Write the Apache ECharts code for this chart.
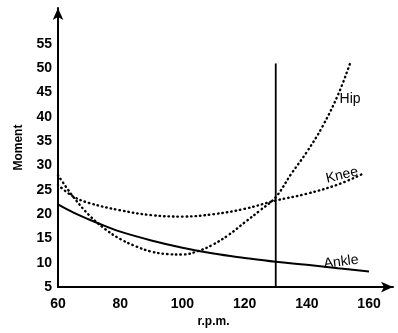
<!DOCTYPE html>
<html>
<head>
<meta charset="utf-8">
<script src="https://cdn.jsdelivr.net/npm/echarts@6/dist/echarts.min.js"></script>
<style>html,body{margin:0;padding:0;background:#fff;}#c{width:398px;height:333px;}</style>
</head>
<body>
<div id="c"></div>
<script>
const xTicks = [60, 80, 100, 120, 140, 160];
const yTicks = [5, 10, 15, 20, 25, 30, 35, 40, 45, 50, 55];
const hipX   = [60, 65, 70, 75, 80, 85, 90, 95, 100, 105, 110, 115, 120, 125, 130, 135, 140, 145, 150, 154];
const hipY   = [28, 23.5, 19.8, 17, 14.9, 13.4, 12.3, 11.8, 11.7, 12.4, 13.8, 15.8, 18.3, 20.8, 23.5, 28.3, 32.8, 38, 44.5, 51.2];
const kneeX  = [60, 65, 70, 80, 90, 100, 110, 120, 130, 140, 150, 158];
const kneeY  = [26, 23.6, 22.3, 20.8, 19.8, 19.5, 20, 21.1, 22.8, 24.2, 26.1, 28.3];
const ankleX = [60, 65, 70, 75, 80, 90, 100, 110, 120, 130, 140, 150, 160];
const ankleY = [22, 20.3, 18.9, 17.6, 16.4, 14.6, 13.1, 11.9, 11, 10.2, 9.6, 8.9, 8.2];
const markerX = 130;
const markerY = [5, 51];
const labels = [
  {name: 'Hip', coord: [153.9, 43.6], rotate: 0},
  {name: 'Knee', coord: [151.3, 28.0], rotate: 13},
  {name: 'Ankle', coord: [151, 10.2], rotate: 7}
];

const zip = (xs, ys) => xs.map((x, i) => [x, ys[i]]);
const chart = echarts.init(document.getElementById('c'), null, {renderer: 'canvas'});
const txt = {fontFamily: 'Liberation Sans, Arial, sans-serif', color: '#000'};
const dotted = {color: '#000', width: 2.4, type: [0.5, 4], cap: 'round'};

chart.setOption({
  animation: false,
  backgroundColor: '#fff',
  grid: {left: 58, right: 5, top: 8, bottom: 38, containLabel: false},
  xAxis: {
    type: 'value', min: 60, max: 167.7, interval: 20,
    name: 'r.p.m.', nameLocation: 'middle', nameGap: 24,
    nameTextStyle: Object.assign({fontSize: 12, fontWeight: 'bold', padding: [0, 24, 0, 0]}, txt),
    axisLine: {show: true, lineStyle: {color: '#000', width: 2}, symbol: ['none', 'arrow'], symbolSize: [8, 12]},
    axisTick: {show: false},
    splitLine: {show: false},
    axisLabel: Object.assign({fontSize: 14, fontWeight: 'bold', margin: 10,
      formatter: v => xTicks.includes(v) ? String(v) : ''}, txt)
  },
  yAxis: {
    type: 'value', min: 5, max: 62.4, interval: 5,
    name: 'Moment', nameLocation: 'middle', nameGap: 33, nameRotate: 90,
    nameTextStyle: Object.assign({fontSize: 12, fontWeight: 'bold'}, txt),
    axisLine: {show: true, lineStyle: {color: '#000', width: 2}, symbol: ['none', 'arrow'], symbolSize: [8, 12]},
    axisTick: {show: false},
    splitLine: {show: false},
    axisLabel: Object.assign({fontSize: 14, fontWeight: 'bold', margin: 6,
      formatter: v => yTicks.includes(v) ? String(v) : ''}, txt)
  },
  series: [
    {name: 'Hip', type: 'line', data: zip(hipX, hipY), smooth: 0.4, showSymbol: false, lineStyle: dotted,
     markPoint: {symbol: 'circle', symbolSize: 0, silent: true,
       data: [{coord: labels[0].coord, label: {show: true, position: 'inside', formatter: labels[0].name, rotate: labels[0].rotate, fontSize: 14, color: '#000', fontFamily: txt.fontFamily}}]}},
    {name: 'Knee', type: 'line', data: zip(kneeX, kneeY), smooth: 0.4, showSymbol: false, lineStyle: dotted,
     markPoint: {symbol: 'circle', symbolSize: 0, silent: true,
       data: [{coord: labels[1].coord, label: {show: true, position: 'inside', formatter: labels[1].name, rotate: labels[1].rotate, fontSize: 14, color: '#000', fontFamily: txt.fontFamily}}]}},
    {name: 'Ankle', type: 'line', data: zip(ankleX, ankleY), smooth: 0.4, showSymbol: false, lineStyle: {color: '#000', width: 2},
     markPoint: {symbol: 'circle', symbolSize: 0, silent: true,
       data: [{coord: labels[2].coord, label: {show: true, position: 'inside', formatter: labels[2].name, rotate: labels[2].rotate, fontSize: 14, color: '#000', fontFamily: txt.fontFamily}}]}},
    {name: 'marker', type: 'line', data: markerY.map(y => [markerX, y]), showSymbol: false, lineStyle: {color: '#000', width: 1.8}}
  ]
});
</script>
</body>
</html>
